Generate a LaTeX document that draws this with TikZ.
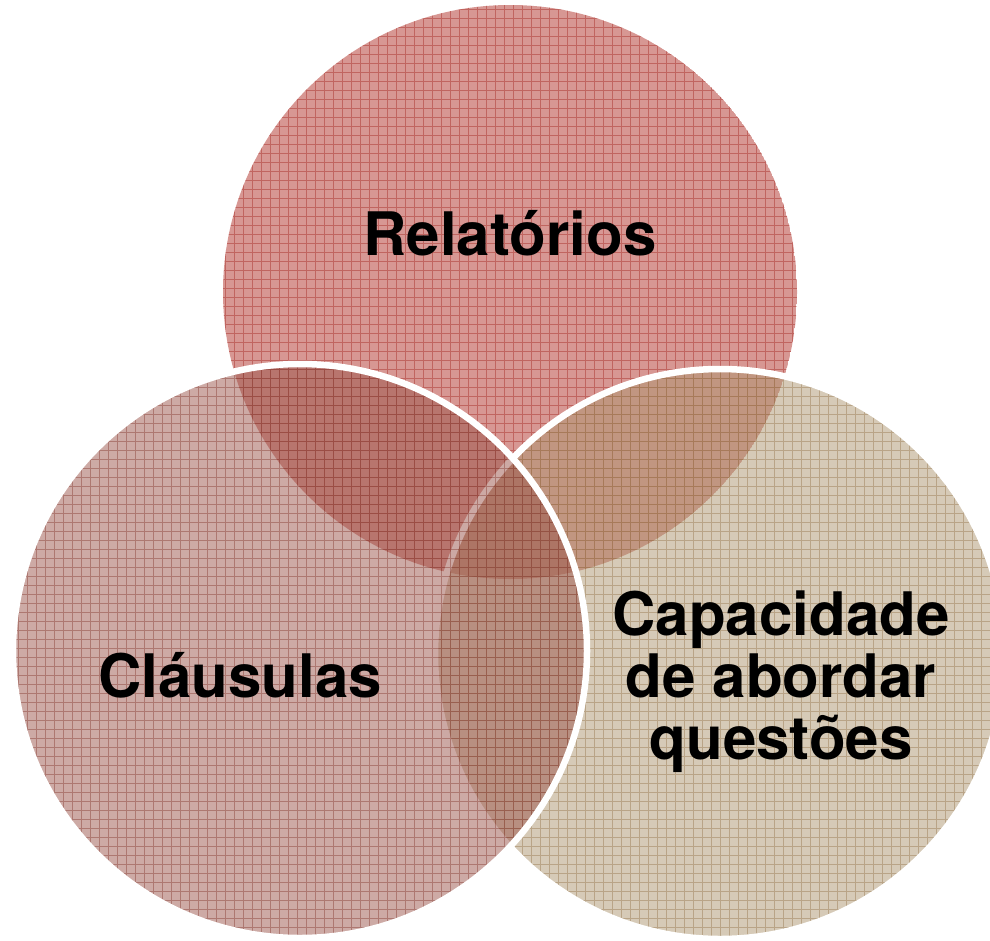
\documentclass[tikz,border=0pt]{standalone}
\usepackage{fontspec}
\setmainfont{TeX Gyre Heros}
\definecolor{relfill}{RGB}{175,48,40}
\definecolor{relline}{RGB}{165,40,35}
\definecolor{clafill}{RGB}{155,85,75}
\definecolor{claline}{RGB}{135,60,50}
\definecolor{capfill}{RGB}{173,150,112}
\definecolor{capline}{RGB}{150,118,75}
\tikzset{
  venn/.style={fill opacity=.5},
  gridlines/.style={line width=.7pt, opacity=.45},
  ring/.style={draw=white, line width=6.5pt},
  vennlabel/.style={font=\bfseries\fontsize{60}{62}\selectfont, inner sep=0pt, align=center}
}
\begin{document}
\begin{tikzpicture}[x=1pt,y=-1pt]
  \useasboundingbox (0,0) rectangle (990,940);
  \clip (0,0) rectangle (990,940);
  \coordinate (rel) at (510,292);
  \coordinate (cap) at (720,654);
  \coordinate (cla) at (300,651);
  % Relatorios
  \begin{scope}
    \clip (rel) circle (287pt);
    \fill[relfill, venn] (rel) circle (287pt);
    \draw[relline, gridlines] (0,940) grid[step=9pt] (990,0);
  \end{scope}
  % Capacidade
  \begin{scope}
    \clip (cap) circle (285pt);
    \fill[capfill, venn] (cap) circle (285pt);
    \draw[capline, gridlines] (0,940) grid[step=9pt] (990,0);
  \end{scope}
  \draw[ring] (cap) circle (285pt);
  % Clausulas
  \begin{scope}
    \clip (cla) circle (287pt);
    \fill[clafill, venn] (cla) circle (287pt);
    \draw[claline, gridlines] (0,940) grid[step=9pt] (990,0);
  \end{scope}
  \draw[ring] (cla) circle (287pt);
  \node[vennlabel, anchor=base] (relt) at (510,255) {Relatórios};
  \node[vennlabel, anchor=base] (clat) at (240,697) {Cláusulas};
  \node[vennlabel] (capt) at (781,682) {Capacidade\\de abordar\\questões};
\end{tikzpicture}
\end{document}
